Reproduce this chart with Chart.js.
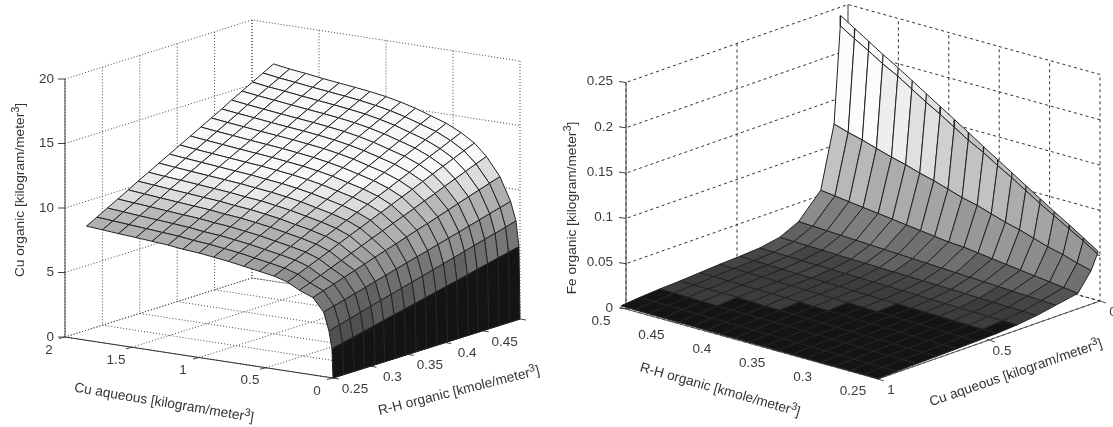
<!DOCTYPE html>
<html>
<head>
<meta charset="utf-8">
<script src="https://cdn.jsdelivr.net/npm/chart.js@4"></script>
<style>
  html, body { margin: 0; padding: 0; background: #fff; }
  canvas { display: block; }
</style>
</head>
<body>
<canvas id="chart" width="1113" height="427"></canvas>
<script>
// left surface, values
const cuAqueousLeft = [0, 0.008, 0.03, 0.07, 0.15, 0.25, 0.34, 0.44, 0.55, 0.665, 0.78, 0.89, 1.0, 1.12, 1.23, 1.35, 1.47, 1.6, 1.72, 1.84];
const rhOrganicLeft = [0.25, 0.264, 0.278, 0.292, 0.306, 0.319, 0.333, 0.347, 0.361, 0.375, 0.389, 0.403, 0.417, 0.431, 0.444, 0.458, 0.472, 0.486, 0.5];
const cuOrganic = [
  [0,0,0,0,0,0,0,0,0,0,0,0,0,0,0,0,0,0,0],
  [2.25,2.44,2.62,2.81,3.0,3.18,3.37,3.55,3.74,3.92,4.11,4.3,4.48,4.67,4.85,5.04,5.23,5.41,5.6],
  [3.6,3.82,4.04,4.26,4.48,4.7,4.91,5.13,5.35,5.57,5.79,6.01,6.23,6.45,6.67,6.89,7.1,7.32,7.55],
  [5,5.22,5.44,5.67,5.89,6.11,6.33,6.56,6.78,7,7.22,7.44,7.67,7.89,8.11,8.33,8.56,8.78,9],
  [6,6.27,6.53,6.8,7.07,7.33,7.6,7.87,8.13,8.4,8.67,8.93,9.2,9.47,9.73,10,10.27,10.53,10.8],
  [6.4,6.72,7.04,7.37,7.69,8.01,8.33,8.66,8.98,9.3,9.62,9.94,10.27,10.59,10.91,11.23,11.56,11.88,12.2],
  [6.9,7.24,7.59,7.93,8.28,8.62,8.97,9.31,9.66,10,10.34,10.69,11.03,11.38,11.72,12.07,12.41,12.76,13.1],
  [7.2,7.56,7.93,8.29,8.66,9.02,9.38,9.75,10.11,10.48,10.84,11.2,11.57,11.93,12.3,12.66,13.02,13.39,13.75],
  [7.4,7.78,8.17,8.55,8.93,9.32,9.7,10.08,10.47,10.85,11.23,11.62,12,12.38,12.77,13.15,13.53,13.92,14.3],
  [7.6,7.99,8.39,8.78,9.18,9.57,9.97,10.36,10.76,11.15,11.54,11.94,12.33,12.73,13.12,13.52,13.91,14.31,14.7],
  [7.8,8.21,8.61,9.02,9.42,9.83,10.23,10.64,11.04,11.45,11.86,12.26,12.67,13.07,13.48,13.88,14.29,14.69,15.1],
  [7.95,8.36,8.78,9.19,9.61,10.02,10.43,10.85,11.26,11.68,12.09,12.5,12.92,13.33,13.75,14.16,14.57,14.99,15.4],
  [8.1,8.52,8.94,9.36,9.78,10.2,10.62,11.03,11.45,11.87,12.29,12.71,13.13,13.55,13.97,14.39,14.81,15.22,15.65],
  [8.2,8.63,9.05,9.48,9.9,10.33,10.75,11.18,11.6,12.03,12.45,12.88,13.3,13.73,14.15,14.58,15,15.43,15.85],
  [8.35,8.78,9.2,9.63,10.05,10.48,10.9,11.33,11.75,12.18,12.6,13.03,13.45,13.88,14.3,14.73,15.15,15.58,16],
  [8.45,8.88,9.31,9.73,10.16,10.59,11.02,11.45,11.87,12.3,12.73,13.16,13.59,14.01,14.44,14.87,15.3,15.73,16.15],
  [8.55,8.98,9.41,9.84,10.27,10.71,11.14,11.57,12,12.43,12.86,13.29,13.72,14.15,14.58,15.02,15.45,15.88,16.3],
  [8.65,9.09,9.52,9.96,10.39,10.83,11.27,11.7,12.14,12.57,13.01,13.45,13.88,14.32,14.75,15.19,15.63,16.06,16.5],
  [8.75,9.19,9.63,10.07,10.51,10.95,11.38,11.82,12.26,12.7,13.14,13.58,14.02,14.46,14.9,15.34,15.77,16.21,16.65],
  [8.85,9.29,9.74,10.18,10.63,11.07,11.51,11.96,12.4,12.85,13.29,13.73,14.18,14.62,15.07,15.51,15.95,16.4,16.85]
];

// right surface
const cuAqueousRight = [0.01, 0.012, 0.04, 0.1, 0.2, 0.285, 0.375, 0.465, 0.555, 0.645, 0.735, 0.825, 0.915, 1.0];
const rhOrganicRight = [0.25, 0.264, 0.278, 0.293, 0.307, 0.321, 0.335, 0.349, 0.363, 0.378, 0.392, 0.406, 0.42, 0.434, 0.448, 0.463, 0.477, 0.491, 0.505];
const feOrganic = [
  [.056,.066,.076,.086,.096,.106,.116,.126,.136,.147,.157,.167,.177,.187,.197,.207,.217,.227,.237],
  [.053,.063,.072,.082,.091,.101,.111,.12,.13,.139,.149,.159,.168,.178,.188,.197,.207,.216,.226],
  [.037,.041,.046,.05,.055,.06,.064,.069,.074,.078,.083,.088,.092,.097,.101,.106,.111,.115,.12],
  [.017,.019,.021,.023,.025,.027,.029,.031,.033,.034,.036,.038,.04,.042,.044,.046,.048,.05,.052],
  [.0125,.0133,.014,.0148,.0155,.0163,.017,.0178,.0185,.0193,.02,.0208,.0215,.0223,.023,.0238,.0245,.0253,.026],
  [.0085,.0089,.0093,.0098,.0102,.0106,.011,.0114,.0118,.0123,.0127,.0131,.0135,.0139,.0143,.0148,.0152,.0156,.016],
  [.0058,.0062,.0065,.0068,.0072,.0075,.0079,.0082,.0086,.0089,.0092,.0096,.0099,.0103,.0106,.0109,.0113,.0116,.012],
  [.0042,.0045,.0048,.0051,.0054,.0057,.0059,.0062,.0066,.0069,.0073,.0077,.0081,.0085,.0089,.0093,.0097,.0101,.0105],
  [.0035,.0038,.004,.0043,.0046,.0048,.0051,.0054,.0058,.0062,.0066,.007,.0073,.0077,.008,.0084,.0087,.0091,.0095],
  [.0028,.003,.0032,.0035,.0037,.004,.0042,.0045,.0048,.0052,.0056,.0061,.0064,.0067,.007,.0072,.0075,.0078,.008],
  [.0022,.0024,.0026,.0028,.003,.0032,.0034,.0037,.004,.0043,.0046,.0049,.0052,.0055,.0061,.0062,.0063,.0064,.0065],
  [.0018,.002,.0022,.0023,.0025,.0027,.0029,.0031,.0033,.0035,.0037,.0039,.0041,.0043,.0045,.0047,.005,.0053,.0055],
  [.0012,.0013,.0014,.0015,.0016,.0018,.0019,.002,.0022,.0023,.0025,.0026,.0028,.003,.0032,.0034,.0036,.0038,.004],
  [.0005,.0006,.0006,.0007,.0007,.0008,.0009,.0009,.001,.0011,.0012,.0012,.0013,.0014,.0015,.0016,.0017,.0018,.002]
];

// tick labels
const cuTicksLeft = [0, 0.5, 1, 1.5, 2];
const rhTicksLeft = [0.25, 0.3, 0.35, 0.4, 0.45, 0.5];
const zTicksLeft = [0, 5, 10, 15, 20];
const cuTicksRight = [0, 0.5, 1];
const rhTicksRight = [0.25, 0.3, 0.35, 0.4, 0.45, 0.5];
const zTicksRight = [0, 0.05, 0.1, 0.15, 0.2, 0.25];

// gray steps of the colormaps: [z from, gray]
const grayLeft = [[0,20],[2,80],[3,90],[3.6,98],[4.5,110],[5,118],[5.6,128],[6,144],[7,160],[7.5,168],[8,176],[8.8,184],[9.5,204],[10,220],[10.6,234],[11.2,248]];
const grayRight = [[0,20],[.006,60],[.01,69],[.015,84],[.02,98],[.03,112],[.04,126],[.05,140],[.06,152],[.075,164],[.09,172],[.105,184],[.115,194],[.14,208],[.155,224],[.17,238],[.19,252]];

// view: where the axes origin lands and how far one unit moves on the page
const viewLeft = { ox: 333, oy: 378, x: [-134, -20.5], y: [748, -236], y0: 0.25, z: -12.9 };
const viewRight = { ox: 1100, oy: 301, x: [-222, 78], y: [-1008, -280], y0: 0.25, z: -906 };

function project(v, x, y, z) {
  return {
    x: v.ox + v.x[0] * x + v.y[0] * (y - v.y0),
    y: v.oy + v.x[1] * x + v.y[1] * (y - v.y0) + v.z * z
  };
}

function grayFor(steps, z) {
  let g = steps[0][1];
  for (const s of steps) if (z >= s[0]) g = s[1];
  return 'rgb(' + g + ',' + g + ',' + g + ')';
}

function lineSet(points, color, dash) {
  return { data: points, showLine: true, fill: false, borderColor: color, borderDash: dash || [], borderWidth: 1, pointRadius: 0 };
}

// nearest cells first, chart.js paints dataset 0 last
function surfaceSets(v, xs, ys, zs, steps, rows) {
  const sets = [];
  for (const i of rows) {
    for (let j = 0; j < ys.length - 1; j++) {
      const a = project(v, xs[i], ys[j], zs[i][j]);
      const b = project(v, xs[i], ys[j + 1], zs[i][j + 1]);
      const c = project(v, xs[i + 1], ys[j + 1], zs[i + 1][j + 1]);
      const d = project(v, xs[i + 1], ys[j], zs[i + 1][j]);
      sets.push({
        data: [a, b, c, d, a],
        showLine: true,
        fill: 'shape',
        backgroundColor: grayFor(steps, zs[i][j]),
        borderColor: '#222',
        borderWidth: 1,
        pointRadius: 0
      });
    }
  }
  return sets;
}

function boxSets(v, xt, yt, zt, xFar, xWall, color, dash) {
  const sets = [];
  const y0 = yt[0], yBack = yt[yt.length - 1], z0 = zt[0], z1 = zt[zt.length - 1];
  for (const z of zt) {
    sets.push(lineSet([project(v, xWall, y0, z), project(v, xWall, yBack, z), project(v, xFar, yBack, z)], color, dash));
  }
  for (const x of xt) {
    sets.push(lineSet([project(v, x, yBack, z1), project(v, x, yBack, z0), project(v, x, y0, z0)], color, dash));
  }
  for (const y of yt) {
    sets.push(lineSet([project(v, xFar, y, z0), project(v, xWall, y, z0), project(v, xWall, y, z1)], color, dash));
  }
  return sets;
}

const rowsLeft = cuAqueousLeft.slice(0, -1).map((_, i) => i);
const rowsRight = cuAqueousRight.slice(0, -1).map((_, i) => i).reverse();

const datasets = [
  ...surfaceSets(viewLeft, cuAqueousLeft, rhOrganicLeft, cuOrganic, grayLeft, rowsLeft),
  ...surfaceSets(viewRight, cuAqueousRight, rhOrganicRight, feOrganic, grayRight, rowsRight)
];

// left axes: solid edges and ticks
const zTop = zTicksLeft[zTicksLeft.length - 1];
datasets.push(lineSet([project(viewLeft, 2, 0.25, 0), project(viewLeft, 2, 0.25, zTop)], '#444'));
datasets.push(lineSet([project(viewLeft, 2, 0.25, 0), project(viewLeft, 0, 0.25, 0), project(viewLeft, 0, 0.5, 0)], '#333'));
for (const z of zTicksLeft) {
  const p = project(viewLeft, 2, 0.25, z);
  datasets.push(lineSet([p, { x: p.x - 7, y: p.y }], '#444'));
}
for (const x of cuTicksLeft) {
  const p = project(viewLeft, x, 0.25, 0);
  datasets.push(lineSet([p, { x: p.x - 6, y: p.y + 1.5 }], '#444'));
}
for (const y of rhTicksLeft) {
  const p = project(viewLeft, 0, y, 0);
  datasets.push(lineSet([p, { x: p.x + 6, y: p.y + 1 }], '#444'));
}
// right axes
const zTopR = zTicksRight[zTicksRight.length - 1];
datasets.push(lineSet([project(viewRight, 1, 0.5, 0), project(viewRight, 1, 0.5, zTopR)], '#444'));
datasets.push(lineSet([project(viewRight, 1, 0.5, 0), project(viewRight, 1, 0.25, 0), project(viewRight, 0, 0.25, 0)], '#555'));
for (const z of zTicksRight) {
  const p = project(viewRight, 1, 0.5, z);
  datasets.push(lineSet([p, { x: p.x - 7, y: p.y - 1 }], '#444'));
}
for (const y of rhTicksRight) {
  const p = project(viewRight, 1, y, 0);
  datasets.push(lineSet([p, { x: p.x - 6, y: p.y - 2 }], '#555'));
}
for (const x of cuTicksRight) {
  const p = project(viewRight, x, 0.25, 0);
  datasets.push(lineSet([p, { x: p.x + 6, y: p.y + 2 }], '#555'));
}

// grid on walls and floor, under everything
datasets.push(...boxSets(viewLeft, cuTicksLeft, rhTicksLeft, zTicksLeft, 0, 2, '#444', [1, 2]));
datasets.push(...boxSets(viewRight, cuTicksRight, rhTicksRight, zTicksRight, 1, 0, '#333', [3, 3]));

// Chart.js has no 3D axes, so tick labels and titles go on by hand at projected spots
const labelPlugin = {
  id: 'labels3d',
  afterDraw(chart) {
    const ctx = chart.ctx;
    const sx = chart.scales.x, sy = chart.scales.y;
    function put(text, px, py, align) {
      ctx.save();
      ctx.translate(sx.getPixelForValue(px), sy.getPixelForValue(py));
      ctx.font = '13.5px "Liberation Sans"';
      ctx.fillStyle = '#3c3c3c';
      ctx.textAlign = align || 'center';
      ctx.textBaseline = 'middle';
      ctx.fillText(text, 0, 0);
      ctx.restore();
    }
    // title with a raised 3, centred on px,py
    function title(before, after, px, py, angle) {
      ctx.save();
      ctx.translate(sx.getPixelForValue(px), sy.getPixelForValue(py));
      ctx.rotate(angle * Math.PI / 180);
      ctx.fillStyle = '#333';
      ctx.textBaseline = 'middle';
      ctx.textAlign = 'left';
      ctx.font = '13.7px "Liberation Sans"';
      const w1 = ctx.measureText(before).width, w3 = ctx.measureText(after).width;
      ctx.font = '11px "Liberation Sans"';
      const w2 = ctx.measureText('3').width;
      const start = -(w1 + w2 + w3) / 2;
      ctx.fillText('3', start + w1, -4);
      ctx.font = '13.7px "Liberation Sans"';
      ctx.fillText(before, start, 0);
      ctx.fillText(after, start + w1 + w2, 0);
      ctx.restore();
    }
    for (const z of zTicksLeft) {
      const p = project(viewLeft, 2, 0.25, z);
      put(String(z), p.x - 11, p.y, 'right');
    }
    for (const x of cuTicksLeft) {
      const p = project(viewLeft, x, 0.25, 0);
      put(String(x), p.x - 16, p.y + 13);
    }
    for (const y of rhTicksLeft.slice(0, -1)) {
      const p = project(viewLeft, 0, y, 0);
      put(String(y), p.x + 22, p.y + 11);
    }
    for (const z of zTicksRight) {
      const p = project(viewRight, 1, 0.5, z);
      put(String(z), p.x - 13, p.y - 1, 'right');
    }
    for (const x of cuTicksRight) {
      const p = project(viewRight, x, 0.25, 0);
      put(String(x), p.x + 13, p.y + 11);
    }
    for (const y of rhTicksRight) {
      const p = project(viewRight, 1, y, 0);
      put(String(y), p.x - 25, p.y + 12);
    }
    title('Cu organic [kilogram/meter', ']', 20, 190, -90);
    title('Cu aqueous [kilogram/meter', ']', 164, 403, 9.6);
    title('R-H organic [kmole/meter', ']', 459, 391, -14.2);
    title('Fe organic [kilogram/meter', ']', 572, 208, -90);
    title('R-H organic [kmole/meter', ']', 720, 390, 15.8);
    title('Cu aqueous [kilogram/meter', ']', 1016, 373, -19);
  }
};

new Chart(document.getElementById('chart'), {
  type: 'scatter',
  data: { datasets: datasets },
  options: {
    responsive: false,
    animation: false,
    layout: { padding: 0 },
    plugins: { legend: { display: false }, tooltip: { enabled: false } },
    scales: {
      x: { type: 'linear', display: false, min: 0, max: 1113 },
      y: { type: 'linear', display: false, min: 0, max: 427, reverse: true }
    }
  },
  plugins: [labelPlugin]
});
</script>
</body>
</html>
